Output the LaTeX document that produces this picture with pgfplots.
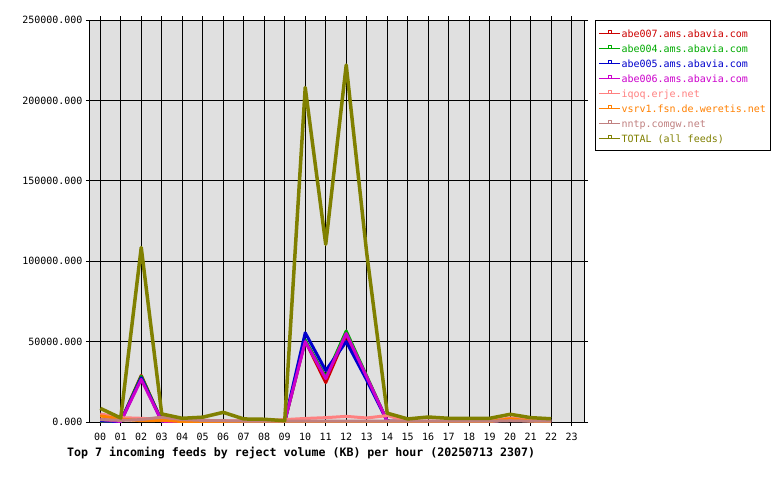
\documentclass[border=0pt]{standalone}
\usepackage{pgfplots}
\usepackage{pgfplotstable}
\pgfplotsset{compat=1.18}
\usepackage{fontspec}
\setmainfont{DejaVu Sans Mono}

\definecolor{c7}{HTML}{CC0000}
\definecolor{c4}{HTML}{00AA00}
\definecolor{c5}{HTML}{0000CC}
\definecolor{c6}{HTML}{CC00CC}
\definecolor{ciq}{HTML}{FF8080}
\definecolor{cvs}{HTML}{FF8000}
\definecolor{cnn}{HTML}{C08080}
\definecolor{ctot}{HTML}{808000}
\definecolor{bgplot}{HTML}{E0E0E0}

% hourly reject volume (KB) per feed
\pgfplotstableread{
h  a7     a4     a5     a6     iq    vs    nn    tot
0  500    600    700    1700   5000  3800  1500  8500
1  300    300    300    300    2700  1800  1000  2500
2  29000  28500  27500  26500  2300  800   1500  108500
3  500    500    500    500    1500  1000  3000  5000
4  200    200    200    200    1000  300   1500  2300
5  200    200    200    200    1000  300   1000  3000
6  200    200    200    200    800   300   800   6000
7  100    100    100    100    700   200   600   1900
8  100    100    100    100    700   200   600   1700
9  300    300    300    300    1500  200   500   800
10 50500  51000  55500  50000  2200  300   600   208000
11 24500  28000  32000  27000  2700  300   600   110500
12 54000  56600  50000  55000  3500  300   600   222000
13 28000  28500  26000  28000  2500  300   600   105000
14 500    500    500    500    4000  300   600   5500
15 200    200    200    200    500   200   500   1900
16 200    200    200    200    500   200   500   3100
17 200    200    200    200    500   200   500   2300
18 200    200    200    200    500   200   500   2300
19 200    200    200    200    500   200   500   2300
20 1500   1500   1500   1900   2500  2000  800   4800
21 800    800    800    1200   1000  500   500   2700
22 500    500    500    500    800   300   500   2000
}\feeds

\begin{document}
\begin{tikzpicture}
\useasboundingbox (0,0) rectangle (780pt,480pt);
\begin{axis}[
  at={(90pt,58pt)}, anchor=south west,
  scale only axis, width=494pt, height=402pt,
  xmin=-0.5, xmax=23.6, ymin=0, ymax=250000,
  axis background/.style={fill=bgplot},
  axis line style={black, line width=1pt},
  grid=major, grid style={black, line width=1pt},
  tick align=outside, major tick length=4pt,
  tick style={black, line width=1pt},
  xtick={0,...,23},
  xticklabels={00,01,02,03,04,05,06,07,08,09,10,11,12,13,14,15,16,17,18,19,20,21,22,23},
  ytick={0,50000,100000,150000,200000,250000},
  scaled y ticks=false,
  /pgf/number format/assume math mode=true,
  yticklabel={\pgfmathprintnumber[fixed,fixed zerofill,precision=3,1000 sep={}]{\tick}},
  ticklabel style={font=\fontsize{10}{11}\selectfont},
  xticklabel style={yshift=-4pt},
  legend cell align=left,
  legend style={at={(axis description cs:1.0223,1)}, anchor=north west,
    draw=black, line width=1pt, fill=white,
    font=\fontsize{10}{12}\selectfont, row sep=0pt, inner xsep=3pt, inner ysep=5pt,
    nodes={text height=10pt, text depth=1pt, inner ysep=2pt, inner xsep=1pt}},
  legend image code/.code={
    \draw[line width=1pt] (0pt,0pt) -- (21pt,0pt);
    \draw[line width=0.8pt] (9pt,0pt) rectangle (12pt,2.5pt);
  },
  every axis plot/.append style={line width=3pt, line join=round},
]
\addplot[c7]   table[x=h,y=a7]{\feeds};  \addlegendentry{\textcolor{c7}{abe007.ams.abavia.com}}
\addplot[c4]   table[x=h,y=a4]{\feeds};  \addlegendentry{\textcolor{c4}{abe004.ams.abavia.com}}
\addplot[c5]   table[x=h,y=a5]{\feeds};  \addlegendentry{\textcolor{c5}{abe005.ams.abavia.com}}
\addplot[c6]   table[x=h,y=a6]{\feeds};  \addlegendentry{\textcolor{c6}{abe006.ams.abavia.com}}
\addplot[ciq]  table[x=h,y=iq]{\feeds};  \addlegendentry{\textcolor{ciq}{iqoq.erje.net}}
\addplot[cvs]  table[x=h,y=vs]{\feeds};  \addlegendentry{\textcolor{cvs}{vsrv1.fsn.de.weretis.net}}
\addplot[cnn]  table[x=h,y=nn]{\feeds};  \addlegendentry{\textcolor{cnn}{nntp.comgw.net}}
\addplot[ctot, line width=3.5pt] table[x=h,y=tot]{\feeds}; \addlegendentry{\textcolor{ctot}{TOTAL (all feeds)}}
\end{axis}
\node[anchor=base west, inner sep=0pt, font=\bfseries\fontsize{11.6}{14}\selectfont]
  at (67pt,24pt) {Top 7 incoming feeds by reject volume (KB) per hour (20250713 2307)};
\end{tikzpicture}
\end{document}
